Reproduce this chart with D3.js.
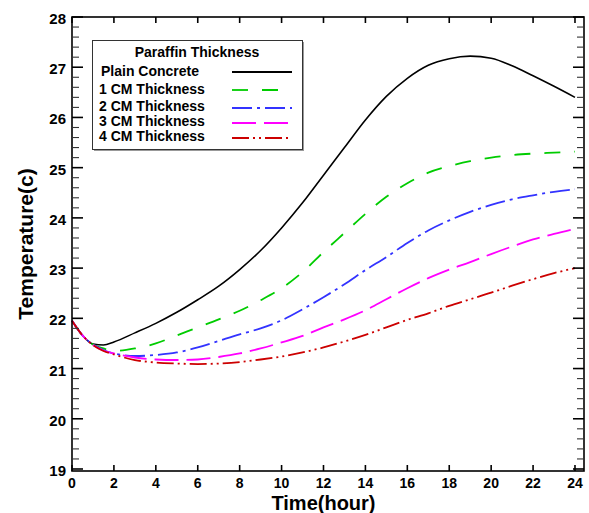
<!DOCTYPE html>
<html>
<head>
<meta charset="utf-8">
<script src="https://cdn.jsdelivr.net/npm/d3@7"></script>
<style>
  html, body { margin: 0; padding: 0; background: #fff; }
  svg { display: block; font-family: "Liberation Sans", Arial, sans-serif; }
</style>
</head>
<body>
<script>
// ---- data ----
const hours = [0, 0.5, 1, 1.5, 2, 3, 4, 5, 6, 7, 8, 9, 10, 11, 12, 13, 14, 15, 16, 17, 18, 19, 20, 21, 22, 23, 24];
const plainConcrete = [21.95, 21.66, 21.49, 21.47, 21.53, 21.71, 21.9, 22.12, 22.37, 22.64, 22.97, 23.35, 23.8, 24.3, 24.85, 25.4, 25.95, 26.42, 26.78, 27.04, 27.17, 27.22, 27.18, 27.03, 26.83, 26.62, 26.4];
const cm1 = [21.95, 21.66, 21.48, 21.4, 21.35, 21.4, 21.5, 21.66, 21.82, 21.98, 22.15, 22.36, 22.6, 22.92, 23.32, 23.7, 24.08, 24.42, 24.69, 24.9, 25.03, 25.13, 25.2, 25.25, 25.28, 25.3, 25.32];
const cm2 = [21.95, 21.66, 21.48, 21.37, 21.3, 21.25, 21.27, 21.32, 21.42, 21.55, 21.68, 21.8, 21.96, 22.18, 22.42, 22.68, 22.96, 23.22, 23.5, 23.75, 23.95, 24.12, 24.26, 24.37, 24.45, 24.52, 24.57];
const cm3 = [21.95, 21.66, 21.47, 21.36, 21.3, 21.22, 21.18, 21.17, 21.18, 21.23, 21.3, 21.4, 21.52, 21.65, 21.82, 21.98, 22.16, 22.38, 22.6, 22.8, 22.97, 23.12, 23.28, 23.43, 23.57, 23.68, 23.78];
const cm4 = [21.95, 21.66, 21.47, 21.35, 21.28, 21.17, 21.12, 21.1, 21.09, 21.1, 21.13, 21.18, 21.24, 21.32, 21.42, 21.54, 21.67, 21.82, 21.97, 22.1, 22.25, 22.38, 22.51, 22.65, 22.78, 22.9, 23.0];
const seriesNames = ["Plain Concrete", "1 CM Thickness", "2 CM Thickness", "3 CM Thickness", "4 CM Thickness"];
const seriesValues = [plainConcrete, cm1, cm2, cm3, cm4];
const seriesColors = ["#000000", "#00cc00", "#3333ff", "#ff00ff", "#cc0000"];
const seriesDashes = [null, "16,14", "20,5,3,5", "24,8", "17,4,2,4,2,4"];
const xTicks = [0, 2, 4, 6, 8, 10, 12, 14, 16, 18, 20, 22, 24];
const yTicks = [19, 20, 21, 22, 23, 24, 25, 26, 27, 28];
const legendTitle = "Paraffin Thickness";
const xTitle = "Time(hour)";
const yTitle = "Temperature(c)";

// ---- layout ----
const W = 589, H = 513;
const L = 72, R = 584, T = 17, B = 471;

const svg = d3.select("body").append("svg").attr("width", W).attr("height", H);

const x = d3.scaleLinear().domain([0, 24.43]).range([L, R]);
const y = d3.scaleLinear().domain([18.96, 28]).range([B, T]);

const yMinor = d3.range(19, 28.001, 0.2).map(v => Math.round(v * 10) / 10).filter(v => !yTicks.includes(v));

// lines
const line = d3.line().x(d => x(d[0])).y(d => y(d[1])).curve(d3.curveMonotoneX);
const plot = svg.append("g");
seriesValues.forEach((vals, i) => {
  const pts = hours.map((h, j) => [h, vals[j]]);
  plot.append("path")
    .attr("d", line(pts))
    .attr("fill", "none")
    .attr("stroke", seriesColors[i])
    .attr("stroke-width", i === 0 ? 1.6 : 1.8)
    .attr("stroke-dasharray", seriesDashes[i]);
});

// frame
svg.append("rect").attr("x", L).attr("y", T).attr("width", R - L).attr("height", B - T)
  .attr("fill", "none").attr("stroke", "#000").attr("stroke-width", 1.6);

// ticks
const tickG = svg.append("g").attr("stroke", "#000");
yTicks.forEach(v => {
  tickG.append("line").attr("x1", L).attr("x2", L + 11).attr("y1", y(v)).attr("y2", y(v)).attr("stroke-width", 1.6);
  tickG.append("line").attr("x1", R).attr("x2", R - 11).attr("y1", y(v)).attr("y2", y(v)).attr("stroke-width", 1.6);
});
yMinor.forEach(v => {
  tickG.append("line").attr("x1", L).attr("x2", L + 7).attr("y1", y(v)).attr("y2", y(v)).attr("stroke-width", 1.1).attr("stroke", "#333");
  tickG.append("line").attr("x1", R).attr("x2", R - 7).attr("y1", y(v)).attr("y2", y(v)).attr("stroke-width", 1.1).attr("stroke", "#333");
});
xTicks.forEach(v => {
  tickG.append("line").attr("x1", x(v)).attr("x2", x(v)).attr("y1", B).attr("y2", B - 6).attr("stroke-width", 1.6);
  tickG.append("line").attr("x1", x(v)).attr("x2", x(v)).attr("y1", T).attr("y2", T + 6).attr("stroke-width", 1.6);
});

// tick labels
const lab = svg.append("g").attr("font-weight", "bold").attr("fill", "#000");
yTicks.forEach(v => {
  lab.append("text").attr("x", 66).attr("y", y(v) + 7).attr("font-size", 15).attr("text-anchor", "end").text(d3.format("d")(v));
});
xTicks.forEach(v => {
  lab.append("text").attr("x", x(v)).attr("y", 488).attr("font-size", 14).attr("text-anchor", "middle").text(d3.format("d")(v));
});

// axis titles
svg.append("text").attr("x", (L + 575) / 2).attr("y", 510).attr("text-anchor", "middle")
  .attr("font-weight", "bold").attr("font-size", 20).text(xTitle);
svg.append("text").attr("transform", `translate(33,${(T + B) / 2}) rotate(-90)`).attr("text-anchor", "middle")
  .attr("font-weight", "bold").attr("font-size", 21).text(yTitle);

// legend
const lg = svg.append("g");
lg.append("rect").attr("x", 94).attr("y", 42).attr("width", 210).attr("height", 109).attr("fill", "#999");
lg.append("rect").attr("x", 92.5).attr("y", 40.5).attr("width", 210).attr("height", 109).attr("fill", "#fff").attr("stroke", "#333").attr("stroke-width", 1);
lg.append("text").attr("x", 197).attr("y", 57).attr("text-anchor", "middle").attr("font-weight", "bold").attr("font-size", 14).text(legendTitle);
const rowText = [76, 94, 111, 126, 141];
const rowLine = [72, 90, 108, 123, 138];
seriesNames.forEach((n, i) => {
  lg.append("text").attr("x", i === 0 ? 101 : 99).attr("y", rowText[i]).attr("font-weight", "bold").attr("font-size", 14).text(n);
  lg.append("line").attr("x1", 232).attr("x2", 292).attr("y1", rowLine[i]).attr("y2", rowLine[i])
    .attr("stroke", seriesColors[i]).attr("stroke-width", 1.8).attr("stroke-dasharray", seriesDashes[i]);
});
</script>
</body>
</html>
